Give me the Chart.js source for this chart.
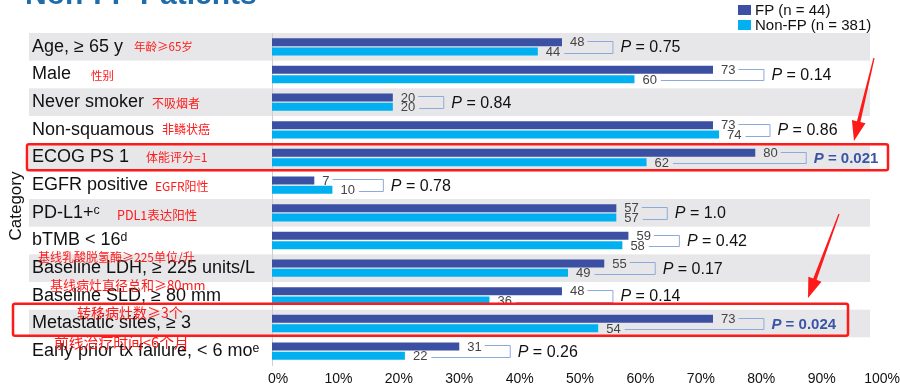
<!DOCTYPE html>
<html><head><meta charset="utf-8">
<script src="https://cdn.jsdelivr.net/npm/chart.js@4.4.1/dist/chart.umd.min.js"></script>
<style>html,body{margin:0;padding:0;background:#fff;}#wrap{width:900px;height:388px;}</style>
</head><body><div id="wrap"><canvas id="c" width="900" height="388"></canvas></div>
<script>
// ---------- data ----------
const categories = ["Age, \u2265 65 y","Male","Never smoker","Non-squamous","ECOG PS 1","EGFR positive","PD-L1+\u1D9C","bTMB < 16\u1D48","Baseline LDH, \u2265 225 units/L","Baseline SLD, \u2265 80 mm","Metastatic sites, \u2265 3","Early prior tx failure, < 6 mo\u1D49"];
const fpValues    = [48, 73, 20, 73, 80, 7, 57, 59, 55, 48, 73, 31];
const nonFpValues = [44, 60, 20, 74, 62, 10, 57, 58, 49, 36, 54, 22];
const pValues     = ["0.75","0.14","0.84","0.86","0.021","0.78","1.0","0.42","0.17","0.14","0.024","0.26"];
const significant = [false,false,false,false,true,false,false,false,false,false,true,false];
const notesZh     = ["年龄≥65岁","性别","不吸烟者","非鳞状癌","体能评分=1","EGFR阳性","PDL1表达阳性","","基线乳酸脱氢酶≥225单位/升","基线病灶直径总和≥80mm","转移病灶数≥3个","前线治疗时间<6个月"];
const xTicks      = [0,10,20,30,40,50,60,70,80,90,100];
const seriesNames = ["FP (n = 44)","Non-FP (n = 381)"];
const titleText   = "Non-FP Patients";
const yTitle      = "Category";

// ---------- styles / placement ----------
const FAM = "'Liberation Sans', Arial, Helvetica, sans-serif";
const CJK = "'Noto Sans CJK SC', sans-serif";
const COL_FP = '#3b4fa3', COL_NFP = '#00b0f0', RED = '#ff1a1a';
// [x, dy from row centre, font size]
const notePlace = [[134,0,11.5],[91,1,11.5],[152,1,12],[162,0,12],[146,0,12],[155,1,12],[117,2,12.5],[0,0,12],[38,-11,12],[50,-11,13],[77,-10.5,14],[54,-9,14.8]];
const boxPlace = {4:{x0:27,x1:888,dt:0.5,db:-1}, 10:{x0:13,x1:848,dt:-6,db:-1.5}};
const arrows = [[874,58,854,141],[839,214,808,298]];

const overlay = {
  id:'overlay',
  beforeDraw(chart){
    const {ctx, chartArea:a, scales:{y}} = chart;
    const h = (a.bottom - a.top) / categories.length;
    ctx.save();
    ctx.fillStyle = '#e7e7e9';
    categories.forEach((c,i)=>{
      if (i % 2 === 0) {
        const yc = y.getPixelForValue(i);
        ctx.fillRect(29, yc - h/2, 870 - 29, h);
      }
    });
    ctx.restore();
  },
  afterDraw(chart){
    const {ctx, chartArea:a, scales:{y}} = chart;
    const h = (a.bottom - a.top) / categories.length;
    const m0 = chart.getDatasetMeta(0), m1 = chart.getDatasetMeta(1);
    ctx.save();
    // title (cut at top)
    ctx.fillStyle = '#1f6cab';
    ctx.font = 'bold 30px ' + FAM;
    ctx.textAlign = 'left'; ctx.textBaseline = 'alphabetic';
    ctx.fillText(titleText, 25, 4);
    // legend
    ctx.font = '15px ' + FAM; ctx.textBaseline = 'middle';
    [[COL_FP,10],[COL_NFP,25]].forEach(([col,yy],k)=>{
      ctx.fillStyle = col; ctx.fillRect(738, yy-5, 13, 10);
      ctx.fillStyle = '#111'; ctx.fillText(seriesNames[k], 755, yy+0.5);
    });
    // y title
    ctx.save();
    ctx.translate(16, 206); ctx.rotate(-Math.PI/2);
    ctx.textAlign = 'center'; ctx.font = '17px ' + FAM; ctx.fillStyle = '#111';
    ctx.fillText(yTitle, 0, 0);
    ctx.restore();
    // data labels, brackets, P values
    categories.forEach((c,i)=>{
      const b0 = m0.data[i], b1 = m1.data[i];
      ctx.font = '13px ' + FAM; ctx.fillStyle = '#444'; ctx.textAlign='left'; ctx.textBaseline='middle';
      const t0 = String(fpValues[i]), t1 = String(nonFpValues[i]);
      const x0 = b0.x + 8, x1 = b1.x + 8;
      ctx.fillText(t0, x0, b0.y + 0.5);
      ctx.fillText(t1, x1, b1.y + 1);
      const e0 = x0 + ctx.measureText(t0).width, e1 = x1 + ctx.measureText(t1).width;
      const bx = Math.max(e0, e1) + 28;
      const ty = Math.round(b0.y) - 0.5, by = Math.round(b1.y) + 1.5;
      ctx.strokeStyle = '#8eaadb'; ctx.lineWidth = 1;
      ctx.beginPath();
      ctx.moveTo(e0 + 3, ty); ctx.lineTo(bx + 0.5, ty); ctx.lineTo(bx + 0.5, by); ctx.lineTo(e1 + 4, by);
      ctx.stroke();
      // P value
      const sig = significant[i];
      const yc = y.getPixelForValue(i) + 1;
      const sz = sig ? 15 : 16;
      const wt = sig ? 'bold ' : '';
      ctx.fillStyle = sig ? '#3a55a5' : '#111';
      ctx.font = 'italic ' + wt + sz + 'px ' + FAM;
      ctx.fillText('P', bx + 8, yc);
      const pw = ctx.measureText('P').width;
      ctx.font = wt + sz + 'px ' + FAM;
      ctx.fillText(' = ' + pValues[i], bx + 8 + pw, yc);
    });
    // Chinese notes
    ctx.fillStyle = RED; ctx.textAlign = 'left'; ctx.textBaseline = 'middle';
    notesZh.forEach((t,i)=>{
      if (!t) return;
      const [nx, dy, sz] = notePlace[i];
      ctx.font = sz + 'px ' + CJK;
      ctx.fillText(t, nx, y.getPixelForValue(i) + dy);
    });
    // red boxes
    ctx.strokeStyle = RED; ctx.lineWidth = 2.5;
    Object.keys(boxPlace).forEach(k=>{
      const p = boxPlace[k], yc = y.getPixelForValue(+k);
      const top = yc - h/2 + p.dt, bot = yc + h/2 + p.db;
      ctx.beginPath();
      if (ctx.roundRect) ctx.roundRect(p.x0, top, p.x1 - p.x0, bot - top, 2); else ctx.rect(p.x0, top, p.x1-p.x0, bot-top);
      ctx.stroke();
    });
    // arrows
    ctx.fillStyle = RED;
    arrows.forEach(([sx,sy,tx,ty])=>{
      const dx = tx - sx, dy = ty - sy, L = Math.hypot(dx, dy);
      const ux = dx/L, uy = dy/L, nx = -uy, ny = ux;
      const hl = 20, hw = 7;
      const bxp = tx - ux*hl, byp = ty - uy*hl;
      ctx.beginPath();
      ctx.moveTo(sx + nx*0.6, sy + ny*0.6);
      ctx.lineTo(bxp + nx*1.8, byp + ny*1.8);
      ctx.lineTo(bxp + nx*hw, byp + ny*hw);
      ctx.lineTo(tx, ty);
      ctx.lineTo(bxp - nx*hw, byp - ny*hw);
      ctx.lineTo(bxp - nx*1.8, byp - ny*1.8);
      ctx.lineTo(sx - nx*0.6, sy - ny*0.6);
      ctx.closePath(); ctx.fill();
    });
    ctx.restore();
  }
};

new Chart(document.getElementById('c'), {
  type: 'bar',
  data: {
    labels: categories,
    datasets: [
      {label: seriesNames[0], data: fpValues, backgroundColor: COL_FP, categoryPercentage: 0.68, barPercentage: 0.85},
      {label: seriesNames[1], data: nonFpValues, backgroundColor: COL_NFP, categoryPercentage: 0.68, barPercentage: 0.85}
    ]
  },
  options: {
    indexAxis: 'y',
    responsive: false,
    animation: false,
    devicePixelRatio: 1,
    layout: {padding: {left: 32, top: 33, right: 22, bottom: 0}},
    plugins: {legend: {display: false}, tooltip: {enabled: false}},
    scales: {
      x: {
        min: 0, max: 100,
        grid: {display: false, drawTicks: false},
        border: {display: false},
        afterBuildTicks: s => { s.ticks = xTicks.map(v => ({value: v})); },
        ticks: {callback: v => v + '%', font: {family: FAM, size: 14}, color: '#111', padding: 6, labelOffset: 6, maxRotation: 0, autoSkip: false},
        afterFit: s => { s.height = 23; }
      },
      y: {
        grid: {display: false},
        border: {display: true, color: '#cfcfcf', width: 1},
        ticks: {crossAlign: 'far', padding: 0, font: {family: FAM, size: 18}, color: '#111', autoSkip: false},
        afterFit: s => { s.width = 240; }
      }
    }
  },
  plugins: [overlay]
});
</script>
</body></html>
